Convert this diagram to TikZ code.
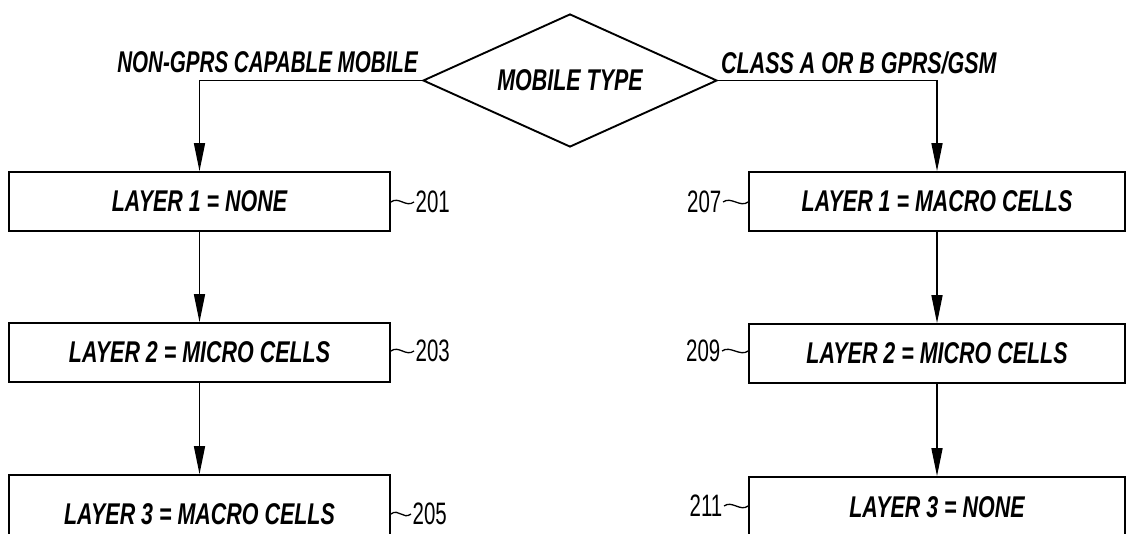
\documentclass[tikz,border=0pt]{standalone}
\usepackage{fontspec}
\usetikzlibrary{shapes.geometric,arrows.meta}
\newfontfamily\pf{Liberation Sans}[FakeStretch=0.715]
\newfontfamily\nf{Liberation Sans}[FakeStretch=0.66]
\begin{document}
\begin{tikzpicture}[x=1pt,y=-1pt,
  txt/.style={font=\pf\bfseries\itshape\fontsize{30}{32}\selectfont},
  box/.style={draw, line width=1.7pt, minimum width=381pt, minimum height=59pt, inner sep=0pt, txt},
  rbox/.style={box, minimum width=376pt},
  lbl/.style={txt, inner sep=0pt},
  num/.style={font=\nf\fontsize{31}{32}\selectfont, inner sep=1.5pt},
  arr/.style={line width=1.5pt, -{Triangle[length=28pt,width=11pt]}},
  tl/.style={line width=1.3pt}]
\useasboundingbox (0,0) rectangle (1126,533);
% decision
\node[diamond, draw, line width=1.9pt, aspect=2.21, minimum width=294pt, minimum height=133pt, inner sep=0pt, txt] (d) at (570,80.5) {MOBILE TYPE};
\node[lbl, anchor=base east, xscale=0.96] (nl) at (418,72) {NON-GPRS CAPABLE MOBILE};
\node[lbl, anchor=base west] (cl) at (721,73) {CLASS A OR B GPRS/GSM};
% left column
\node[box] (l1) at (199.5,201.5) {LAYER 1 = NONE};
\node[box] (l2) at (199.5,352.5) {LAYER 2 = MICRO CELLS};
\node[box, minimum height=78pt] (l3) at (199.5,514) {LAYER 3 = MACRO CELLS};
% right column
\node[rbox] (r1) at (937,201.5) {LAYER 1 = MACRO CELLS};
\node[rbox] (r2) at (937,353.5) {LAYER 2 = MICRO CELLS};
\node[rbox, minimum height=60pt] (r3) at (937,507) {LAYER 3 = NONE};
% reference numbers
\node[num, anchor=west] (n201) at (414,202) {201};
\node[num, anchor=west] (n203) at (414,351) {203};
\node[num, anchor=west] (n205) at (411,514) {205};
\node[num, anchor=east] (n207) at (723,202) {207};
\node[num, anchor=east] (n209) at (722,351) {209};
\node[num, anchor=east] (n211) at (724,506) {211};
% tildes
\draw[tl] (l1.east |- n201.west) .. controls +(8,-6) and +(-8,6) .. (n201.west);
\draw[tl] (l2.east |- n203.west) .. controls +(8,-6) and +(-8,6) .. (n203.west);
\draw[tl] (l3.east |- n205.west) .. controls +(8,-6) and +(-8,6) .. (n205.west);
\draw[tl] (n207.east) .. controls +(8,-6) and +(-8,6) .. (r1.west |- n207.east);
\draw[tl] (n209.east) .. controls +(8,-6) and +(-8,6) .. (r2.west |- n209.east);
\draw[tl] (n211.east) .. controls +(8,-6) and +(-8,6) .. (r3.west |- n211.east);
% connectors
\draw[arr] (d.west) -| (l1.north);
\draw[arr] (d.east) -| (r1.north);
\draw[arr] (l1.south) -- (l2.north);
\draw[arr] (l2.south) -- (l3.north);
\draw[arr] (r1.south) -- (r2.north);
\draw[arr] (r2.south) -- (r3.north);
\end{tikzpicture}
\end{document}
